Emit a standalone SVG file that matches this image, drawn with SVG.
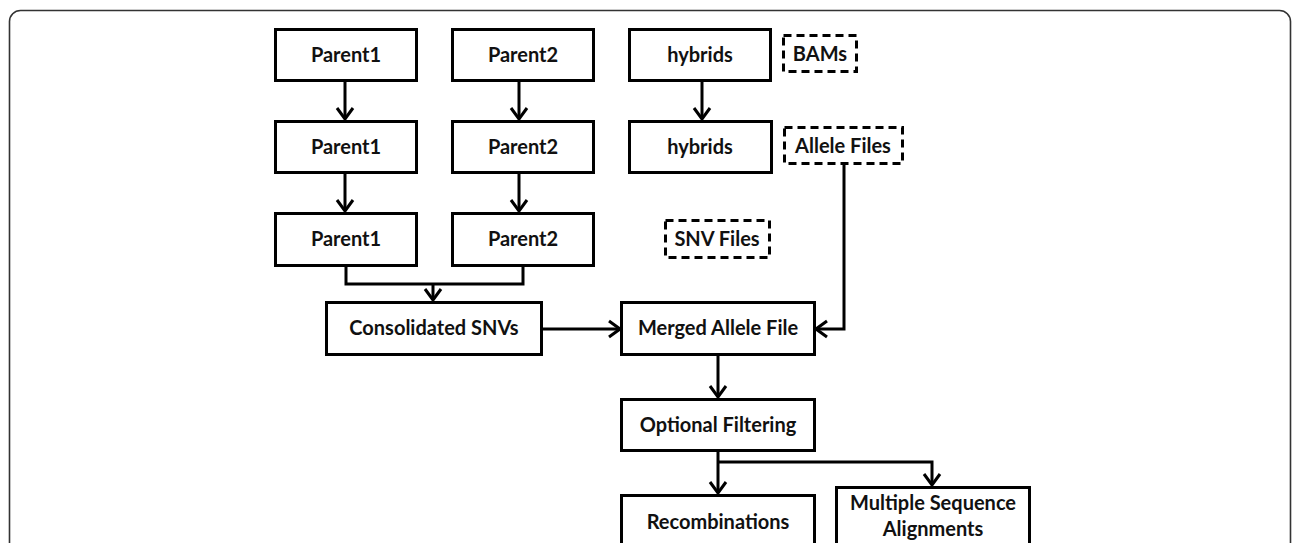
<svg xmlns="http://www.w3.org/2000/svg" width="1292" height="543" viewBox="0 0 1292 543">
<style>
.box{fill:#fff;stroke:#000;stroke-width:3}
.dash{fill:#fff;stroke:#000;stroke-width:3;stroke-dasharray:8 5}
.lbl{font-family:Lato,"Liberation Sans",sans-serif;font-weight:bold;font-size:20px;fill:#111;text-anchor:middle}
.con{fill:none;stroke:#000;stroke-width:3;stroke-linejoin:miter}
</style>
<defs>
<marker id="ah" markerUnits="userSpaceOnUse" viewBox="0 0 14 20" refX="12" refY="10" markerWidth="14" markerHeight="20" orient="auto">
<path d="M1,2 L12,10 L1,18" fill="none" stroke="#000" stroke-width="3"/>
</marker>
</defs>
<rect x="9.5" y="10.5" width="1281" height="580" rx="11" fill="#fff" stroke="#333" stroke-width="1.6"/>
<g id="connectors">
<path class="con" d="M345,81 V119" marker-end="url(#ah)"/>
<path class="con" d="M519,81 V119" marker-end="url(#ah)"/>
<path class="con" d="M702,81 V119" marker-end="url(#ah)"/>
<path class="con" d="M345,173 V211" marker-end="url(#ah)"/>
<path class="con" d="M519,173 V211" marker-end="url(#ah)"/>
<path class="con" d="M346,266 V284 H523 V266"/>
<path class="con" d="M433,284 V300" marker-end="url(#ah)"/>
<path class="con" d="M543,329 H620" marker-end="url(#ah)"/>
<path class="con" d="M844,165 V329 H816" marker-end="url(#ah)"/>
<path class="con" d="M718,355 V397" marker-end="url(#ah)"/>
<path class="con" d="M718,452 V493" marker-end="url(#ah)"/>
<path class="con" d="M718,462 H932 V485" marker-end="url(#ah)"/>
</g>
<g id="p1a"><rect class="box" x="275.5" y="29.5" width="141" height="51"/><text class="lbl" x="346" y="62">Parent1</text></g>
<g id="p2a"><rect class="box" x="452.5" y="29.5" width="141" height="51"/><text class="lbl" x="523" y="62">Parent2</text></g>
<g id="hya"><rect class="box" x="629.5" y="29.5" width="141" height="51"/><text class="lbl" x="700" y="62">hybrids</text></g>
<g id="bams"><rect class="dash" x="783.5" y="35.5" width="73" height="36"/><text class="lbl" x="820" y="61">BAMs</text></g>
<g id="p1b"><rect class="box" x="275.5" y="121.5" width="141" height="51"/><text class="lbl" x="346" y="154">Parent1</text></g>
<g id="p2b"><rect class="box" x="452.5" y="121.5" width="141" height="51"/><text class="lbl" x="523" y="154">Parent2</text></g>
<g id="hyb"><rect class="box" x="629.5" y="121.5" width="142" height="51"/><text class="lbl" x="700" y="154">hybrids</text></g>
<g id="allele"><rect class="dash" x="784.5" y="127.5" width="118" height="36"/><text class="lbl" x="843" y="153">Allele Files</text></g>
<g id="p1c"><rect class="box" x="275.5" y="213.5" width="141" height="52"/><text class="lbl" x="346" y="246">Parent1</text></g>
<g id="p2c"><rect class="box" x="452.5" y="213.5" width="141" height="52"/><text class="lbl" x="523" y="246">Parent2</text></g>
<g id="snv"><rect class="dash" x="665.5" y="220.5" width="104" height="37"/><text class="lbl" x="717" y="246">SNV Files</text></g>
<g id="cons"><rect class="box" x="326.5" y="302.5" width="215" height="52"/><text class="lbl" x="434" y="335">Consolidated SNVs</text></g>
<g id="merged"><rect class="box" x="621.5" y="302.5" width="193" height="52"/><text class="lbl" x="718" y="335">Merged Allele File</text></g>
<g id="filter"><rect class="box" x="621.5" y="399.5" width="193" height="51"/><text class="lbl" x="718" y="432">Optional Filtering</text></g>
<g id="recomb"><rect class="box" x="621.5" y="495.5" width="193" height="70"/><text class="lbl" x="718" y="529">Recombinations</text></g>
<g id="msa"><rect class="box" x="836.5" y="487.5" width="193" height="78"/><text class="lbl" x="933" y="510">Multiple Sequence</text><text class="lbl" x="933" y="536">Alignments</text></g>
</svg>
